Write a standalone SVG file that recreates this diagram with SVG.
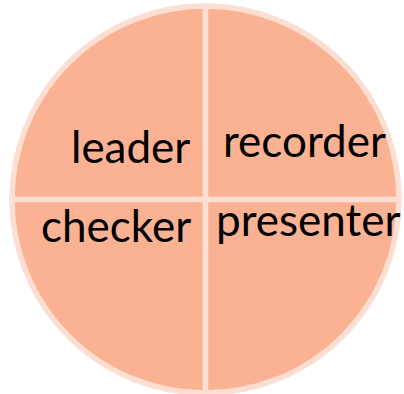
<svg xmlns="http://www.w3.org/2000/svg" width="404" height="394" viewBox="0 0 404 394">
  <style>
    .sector { fill: #FBB292; stroke: #FCDFD2; stroke-width: 5.5; stroke-linejoin: round; }
    .label { font-family: Lato, "Open Sans", "Liberation Sans", sans-serif; font-size: 44px; fill: #000000; }
  </style>
  <rect width="404" height="394" fill="#FFFFFF"/>
  <!-- pie centre (205.5,199.5), radius 193.5 -->
  <g id="leader">
    <path class="sector" d="M205.5,199.5 L12,199.5 A193.5,193.5 0 0 1 205.5,6 Z"/>
    <text class="label" x="71" y="163">leader</text>
  </g>
  <g id="recorder">
    <path class="sector" d="M205.5,199.5 L205.5,6 A193.5,193.5 0 0 1 399,199.5 Z"/>
    <text class="label" x="223" y="157">recorder</text>
  </g>
  <g id="checker">
    <path class="sector" d="M205.5,199.5 L205.5,393 A193.5,193.5 0 0 1 12,199.5 Z"/>
    <text class="label" x="41" y="242">checker</text>
  </g>
  <g id="presenter">
    <path class="sector" d="M205.5,199.5 L399,199.5 A193.5,193.5 0 0 1 205.5,393 Z"/>
    <text class="label" x="216" y="236">presenter</text>
  </g>
  <g id="connectors"/>
</svg>
